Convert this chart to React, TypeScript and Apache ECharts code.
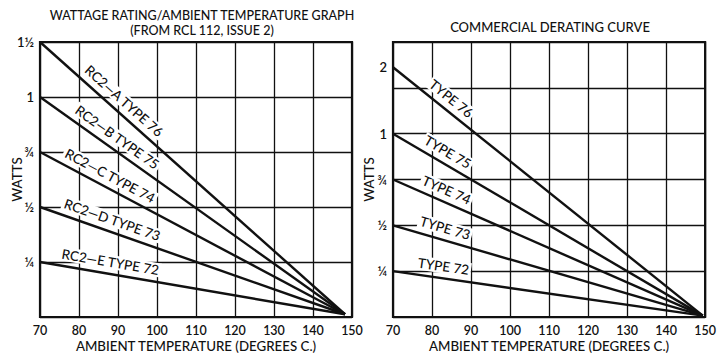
import React, { useEffect, useRef } from "react";
import * as echarts from "echarts";

// ---- data ----
const xTicks = [70, 80, 90, 100, 110, 120, 130, 140, 150];

// Left chart: y axis is evenly spaced levels (index) with fraction labels
const leftLevelLabels = ["", "¼", "½", "¾", "1", "1½"]; // index 0..5
const leftNames = ["RC2—A TYPE 76", "RC2—B TYPE 75", "RC2—C TYPE 74", "RC2—D TYPE 73", "RC2—E TYPE 72"];
const leftStartLevel = [5, 4, 3, 2, 1];
const leftStartTemp = 70;
const leftEnd = [148.2, 0.05]; // convergence point (temp, level)
const leftLabelCenterTemp = [89.5, 88, 86.5, 87.5, 87.5];

// Right chart
const rightLabelValues = [1, 2, 3, 4, 5.45];
const rightLabelTexts = ["¼", "½", "¾", "1", "2"];
const rightNames = ["TYPE 76", "TYPE 75", "TYPE 74", "TYPE 73", "TYPE 72"];
const rightStartLevel = [5.45, 4, 3, 2, 1];
const rightStartTemp = 70;
const rightEnd = [149.4, 0.03];
const rightLabelCenterTemp = [83, 82.5, 82.5, 82.5, 82.5];

const FONT = "Lato, 'Open Sans', sans-serif";
const INK = "#111";

function buildSeries(
  names: string[],
  starts: number[],
  startT: number,
  end: number[],
  centers: number[],
  xi: number,
) {
  return names.map((name, i) => {
    const y0 = starts[i];
    const x1 = 2 * centers[i] - startT;
    const y1 = y0 + ((end[1] - y0) * (x1 - startT)) / (end[0] - startT);
    return {
      type: "line",
      name,
      xAxisIndex: xi,
      yAxisIndex: xi,
      symbol: "none",
      lineStyle: { color: INK, width: 2.4 },
      data: [
        [startT, y0],
        [end[0], end[1]],
      ],
      z: 5,
      markLine: {
        silent: true,
        symbol: "none",
        animation: false,
        lineStyle: { color: "rgba(0,0,0,0)", width: 1, type: "solid" },
        emphasis: { disabled: true },
        label: {
          show: true,
          position: "insideMiddleTop",
          formatter: name,
          color: INK,
          fontFamily: FONT,
          fontSize: 13.5,
          fontWeight: 500,
          distance: 5,
          backgroundColor: "#fff",
          padding: [0, 2, 0, 2],
        },
        data: [[{ coord: [startT, y0] }, { coord: [x1, y1] }]],
      },
    };
  });
}

export default function App() {
  const ref = useRef<HTMLDivElement>(null);
  useEffect(() => {
    if (!ref.current) return;
    const chart = echarts.init(ref.current, undefined, { renderer: "svg" });
    const axisNameStyle = { color: INK, fontFamily: FONT, fontSize: 13.3, fontWeight: 500 };
    const xAxisCommon = {
      type: "value",
      min: 70,
      max: 150,
      interval: 10,
      axisLine: { show: false },
      axisTick: { show: false },
      splitLine: { show: true, lineStyle: { color: INK, width: 1.3 } },
      axisLabel: { color: INK, fontFamily: FONT, fontSize: 12.5, fontWeight: 600, margin: 7 },
      name: "AMBIENT TEMPERATURE (DEGREES C.)",
      nameLocation: "middle",
      nameGap: 22,
      nameMoveOverlap: false,
      nameTextStyle: axisNameStyle,
    };
    const option = {
      animation: false,
      backgroundColor: "#fff",
      title: [
        {
          text: "WATTAGE RATING/AMBIENT TEMPERATURE GRAPH\n(FROM RCL 112, ISSUE 2)",
          left: 197,
          top: 3,
          textAlign: "center",
          textStyle: { color: INK, fontFamily: FONT, fontSize: 12.5, fontWeight: 500, lineHeight: 15 },
        },
        {
          text: "COMMERCIAL DERATING CURVE",
          left: 545,
          top: 15,
          textAlign: "center",
          textStyle: { color: INK, fontFamily: FONT, fontSize: 13, fontWeight: 500 },
        },
      ],
      grid: [
        { left: 40, top: 42, width: 312, height: 276, show: true, borderColor: INK, borderWidth: 2.2, backgroundColor: "transparent" },
        { left: 393, top: 42, width: 313, height: 278, show: true, borderColor: INK, borderWidth: 2.2, backgroundColor: "transparent" },
      ],
      xAxis: [
        { ...xAxisCommon, gridIndex: 0 },
        { ...xAxisCommon, gridIndex: 1 },
      ],
      yAxis: [
        {
          gridIndex: 0,
          type: "value",
          min: 0,
          max: 5,
          interval: 1,
          axisLine: { show: false },
          axisTick: { show: false },
          splitLine: { show: true, lineStyle: { color: INK, width: 1.3 } },
          axisLabel: {
            color: INK,
            fontFamily: FONT,
            fontSize: 13,
            fontWeight: 600,
            margin: 6,
            formatter: (v: number) => leftLevelLabels[Math.round(v)] ?? "",
          },
          name: "WATTS",
          nameLocation: "middle",
          nameGap: 17,
          nameMoveOverlap: false,
          nameTextStyle: axisNameStyle,
        },
        {
          gridIndex: 1,
          type: "value",
          min: 0,
          max: 6,
          interval: 1,
          axisLine: { show: false },
          axisTick: { show: false },
          splitLine: { show: true, lineStyle: { color: INK, width: 1.3 } },
          axisLabel: {
            color: INK,
            fontFamily: FONT,
            fontSize: 13,
            fontWeight: 600,
            margin: 6,
            customValues: rightLabelValues,
            formatter: (v: number) => {
              const k = rightLabelValues.findIndex((t) => Math.abs(t - v) < 1e-6);
              return k >= 0 ? rightLabelTexts[k] : "";
            },
          },
          name: "WATTS",
          nameLocation: "middle",
          nameGap: 18,
          nameMoveOverlap: false,
          nameTextStyle: axisNameStyle,
        },
      ],
      series: [
        ...buildSeries(leftNames, leftStartLevel, leftStartTemp, leftEnd, leftLabelCenterTemp, 0),
        ...buildSeries(rightNames, rightStartLevel, rightStartTemp, rightEnd, rightLabelCenterTemp, 1),
      ],
    };
    chart.setOption(option as any);
    return () => chart.dispose();
  }, []);
  return (
    <div
      ref={ref}
      style={{ position: "fixed", left: 0, top: 0, width: 719, height: 357, background: "#fff" }}
    />
  );
}

export { xTicks };
